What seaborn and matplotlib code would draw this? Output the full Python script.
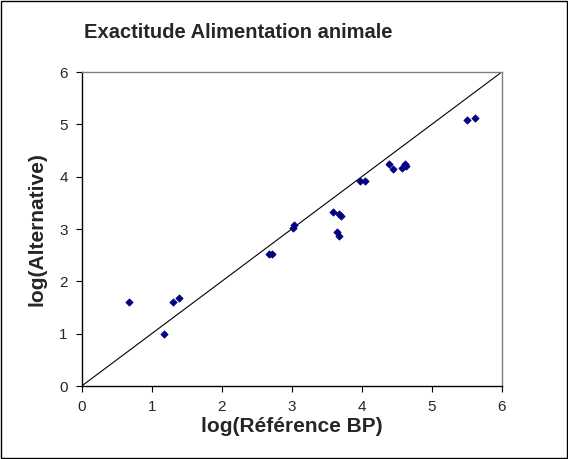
import matplotlib
matplotlib.use("Agg")
import matplotlib.pyplot as plt
import seaborn as sns
import pandas as pd
from matplotlib.patches import Rectangle

x_ref = [0.68, 1.17, 1.31, 1.39, 2.68, 2.72, 3.02, 3.03, 3.59, 3.68, 3.71, 3.65, 3.68,
         3.97, 4.05, 4.39, 4.45, 4.57, 4.62, 4.63, 5.51, 5.62]
y_alt = [1.61, 0.99, 1.61, 1.69, 2.52, 2.52, 3.02, 3.08, 3.33, 3.29, 3.24, 2.95, 2.87,
         3.91, 3.91, 4.25, 4.14, 4.17, 4.24, 4.21, 5.09, 5.13]
ticks = [0, 1, 2, 3, 4, 5, 6]
diag = [0, 6]

sns.set_theme(style="white")
plt.rcParams['font.family'] = ['Liberation Sans', 'DejaVu Sans']

fig = plt.figure(figsize=(5.68, 4.59), dpi=100)
ax = fig.add_axes([0.1438, 0.159, 0.7395, 0.684])

df = pd.DataFrame({"x": x_ref, "y": y_alt})
sns.lineplot(x=diag, y=diag, ax=ax, color="black", linewidth=0.8)
sns.scatterplot(data=df, x="x", y="y", ax=ax, marker="D", s=14, color="#000080",
                edgecolor="#000080", linewidth=0.5, zorder=3)

ax.set_xlim(0, 6)
ax.set_ylim(0, 6)
ax.set_xticks(ticks)
ax.set_yticks(ticks)
ax.tick_params(axis="both", direction="out", length=4, width=0.8, color="black",
               labelsize=11, pad=6, bottom=True, left=True)
for s in ["left", "bottom"]:
    ax.spines[s].set_color("black")
    ax.spines[s].set_linewidth(1.0)
for s in ["top", "right"]:
    ax.spines[s].set_color("#808080")
    ax.spines[s].set_linewidth(1.0)

ax.set_xlabel("log(Référence BP)", fontsize=15, fontweight="bold", labelpad=2)
ax.set_ylabel("log(Alternative)", fontsize=15, fontweight="bold", labelpad=9)

fig.text(0.419, 0.930, "Exactitude Alimentation animale", fontsize=14.5,
         fontweight="bold", ha="center", va="center")

fig.patches.append(Rectangle((0.002, 0.002), 0.996, 0.996, transform=fig.transFigure,
                             fill=False, edgecolor="black", linewidth=1.0))

fig.savefig("out.png", dpi=100)
